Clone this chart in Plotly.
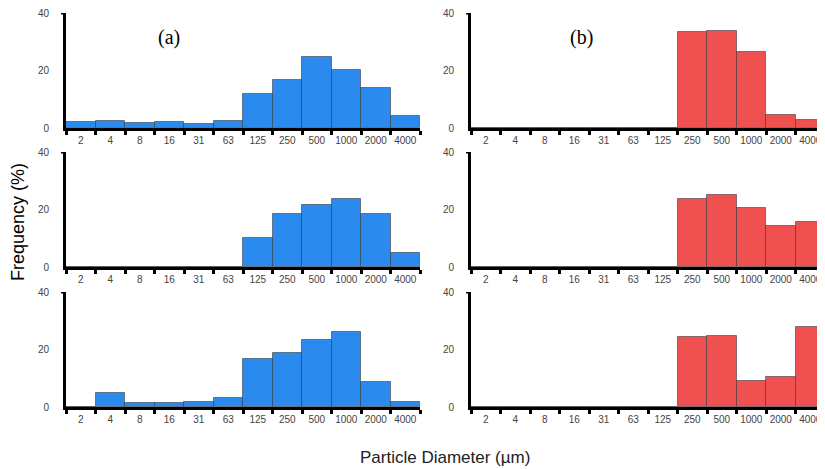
import plotly.graph_objects as go

categories = ["2", "4", "8", "16", "31", "63", "125", "250", "500", "1000", "2000", "4000"]

a_top = [2.1, 2.5, 1.7, 2.1, 1.3, 2.5, 11.8, 16.6, 24.8, 20.3, 13.9, 4.3]
a_mid = [0, 0, 0, 0, 0, 0, 10.2, 18.3, 21.4, 23.6, 18.6, 4.9]
a_bot = [0, 4.9, 1.4, 1.4, 1.8, 3.2, 16.7, 18.7, 23.2, 26.1, 8.7, 1.6]

b_top = [0, 0, 0, 0, 0, 0, 0, 33.3, 33.7, 26.5, 4.6, 2.7]
b_mid = [0, 0, 0, 0, 0, 0, 0, 23.5, 25.0, 20.4, 14.4, 15.8]
b_bot = [0, 0, 0, 0, 0, 0, 0, 24.4, 24.7, 9.2, 10.5, 28.0]

BLUE = "#2A8AEE"
RED = "#EF5050"

W, H = 817, 461  # page has an 8px body margin


def xd(a, b):
    return [(a - 8) / W, min((b - 8) / W, 1.0)]


def yd(top, bot):
    return [1 - (bot - 8) / H, 1 - (top - 8) / H]


panels = [
    (a_top, BLUE, xd(66, 420), yd(13, 128)),
    (a_mid, BLUE, xd(66, 420), yd(152, 267)),
    (a_bot, BLUE, xd(66, 420), yd(292, 407)),
    (b_top, RED, xd(471, 825), yd(13, 128)),
    (b_mid, RED, xd(471, 825), yd(152, 267)),
    (b_bot, RED, xd(471, 825), yd(292, 407)),
]

fig = go.Figure()
layout = {}
shapes = []
for i, (vals, col, xdom, ydom) in enumerate(panels, start=1):
    sx = "" if i == 1 else str(i)
    fig.add_trace(go.Bar(
        x=categories, y=vals, xaxis="x" + sx, yaxis="y" + sx,
        marker=dict(color=col, line=dict(color="rgba(50,50,50,0.55)", width=1)),
        width=1.0, showlegend=False, hoverinfo="x+y",
    ))
    layout["xaxis" + sx] = dict(
        domain=xdom, anchor="y" + sx, type="category",
        categoryorder="array", categoryarray=categories,
        range=[-0.5, 11.5], showgrid=False, zeroline=False,
        showline=True, linecolor="black", linewidth=3,
        ticks="outside", tickson="boundaries", ticklen=4, tickwidth=3, tickcolor="black",
        tickangle=0, automargin=False, ticklabeloverflow="allow",
        tickfont=dict(family="Liberation Sans, Arial", size=10, color="#444"),
        ticklabelstandoff=1, fixedrange=True,
    )
    layout["yaxis" + sx] = dict(
        domain=ydom, anchor="x" + sx, range=[0, 40], tickvals=[0, 20, 40],
        showgrid=False, zeroline=False, automargin=False, ticklabeloverflow="allow",
        showline=True, linecolor="black", linewidth=3, ticks="",
        tickfont=dict(family="Liberation Sans, Arial", size=10, color="#444"),
        ticklabelstandoff=12, fixedrange=True,
    )
    shapes.append(dict(type="line", xref="x" + sx + " domain", yref="y" + sx,
                       x0=-0.014, x1=0, y0=40, y1=40,
                       line=dict(color="black", width=3)))


def px(x):
    return (x - 8) / W


def py(y):
    return 1 - (y - 8) / H


fig.update_layout(
    width=W, height=H,
    margin=dict(l=0, r=0, t=0, b=0),
    plot_bgcolor="white", paper_bgcolor="white",
    bargap=0, shapes=shapes,
    annotations=[
        dict(text="(a)", xref="paper", yref="paper", x=px(169), y=py(38),
             xanchor="center", yanchor="middle", showarrow=False,
             font=dict(family="Liberation Serif, Times New Roman", size=20, color="black")),
        dict(text="(b)", xref="paper", yref="paper", x=px(581), y=py(38),
             xanchor="center", yanchor="middle", showarrow=False,
             font=dict(family="Liberation Serif, Times New Roman", size=20, color="black")),
        dict(text="Frequency (%)", xref="paper", yref="paper", x=px(18), y=py(222),
             xanchor="center", yanchor="middle", textangle=-90, showarrow=False,
             font=dict(family="Liberation Sans, Arial", size=18, color="black")),
        dict(text="Particle Diameter (µm)", xref="paper", yref="paper", x=px(445), y=py(457),
             xanchor="center", yanchor="middle", showarrow=False,
             font=dict(family="Liberation Sans, Arial", size=17, color="#222")),
    ],
    **layout,
)

fig.write_html("out.html")
